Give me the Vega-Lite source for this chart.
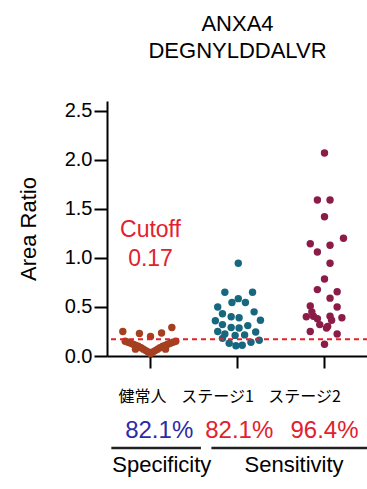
{
  "$schema": "https://vega.github.io/schema/vega-lite/v6.json",
  "padding": {"left": 17, "top": 12, "right": 0, "bottom": 0},
  "spacing": 14,
  "resolve": {"scale": {"color": "independent"}},
  "config": {"view": {"stroke": null}, "font": "Liberation Sans"},
  "vconcat": [
    {
      "width": 261,
      "height": 255,
      "title": {"text": ["ANXA4", "DEGNYLDDALVR"], "fontSize": 22, "fontWeight": "normal", "lineHeight": 27, "anchor": "middle", "frame": "group", "offset": 38, "color": "black"},
      "layer": [
        {
          "data": {"values": [
            {"group": "健常人", "ratio": 0.25, "slot": -3.5},
            {"group": "健常人", "ratio": 0.23, "slot": -1.4},
            {"group": "健常人", "ratio": 0.20, "slot": 0},
            {"group": "健常人", "ratio": 0.235, "slot": 1.4},
            {"group": "健常人", "ratio": 0.29, "slot": 2.7},
            {"group": "健常人", "ratio": 0.15, "slot": -3.2},
            {"group": "健常人", "ratio": 0.14, "slot": -2.85},
            {"group": "健常人", "ratio": 0.13, "slot": -2.5},
            {"group": "健常人", "ratio": 0.12, "slot": -2.2},
            {"group": "健常人", "ratio": 0.11, "slot": -1.9},
            {"group": "健常人", "ratio": 0.10, "slot": -1.55},
            {"group": "健常人", "ratio": 0.085, "slot": -1.2},
            {"group": "健常人", "ratio": 0.07, "slot": -0.9},
            {"group": "健常人", "ratio": 0.055, "slot": -0.6},
            {"group": "健常人", "ratio": 0.04, "slot": -0.3},
            {"group": "健常人", "ratio": 0.025, "slot": 0},
            {"group": "健常人", "ratio": 0.04, "slot": 0.3},
            {"group": "健常人", "ratio": 0.055, "slot": 0.6},
            {"group": "健常人", "ratio": 0.07, "slot": 0.9},
            {"group": "健常人", "ratio": 0.085, "slot": 1.2},
            {"group": "健常人", "ratio": 0.10, "slot": 1.55},
            {"group": "健常人", "ratio": 0.11, "slot": 1.9},
            {"group": "健常人", "ratio": 0.12, "slot": 2.2},
            {"group": "健常人", "ratio": 0.13, "slot": 2.5},
            {"group": "健常人", "ratio": 0.14, "slot": 2.85},
            {"group": "健常人", "ratio": 0.15, "slot": 3.2},
            {"group": "健常人", "ratio": 0.07, "slot": -1.9},
            {"group": "健常人", "ratio": 0.07, "slot": 1.9},
            {"group": "ステージ1", "ratio": 0.945, "slot": 0.1},
            {"group": "ステージ1", "ratio": 0.65, "slot": -1.6},
            {"group": "ステージ1", "ratio": 0.65, "slot": 1.9},
            {"group": "ステージ1", "ratio": 0.545, "slot": -0.7},
            {"group": "ステージ1", "ratio": 0.585, "slot": 0.1},
            {"group": "ステージ1", "ratio": 0.545, "slot": 1.0},
            {"group": "ステージ1", "ratio": 0.50, "slot": -2.5},
            {"group": "ステージ1", "ratio": 0.43, "slot": -1.9},
            {"group": "ステージ1", "ratio": 0.40, "slot": -0.8},
            {"group": "ステージ1", "ratio": 0.39, "slot": 0.2},
            {"group": "ステージ1", "ratio": 0.45, "slot": 2.1},
            {"group": "ステージ1", "ratio": 0.36, "slot": -2.8},
            {"group": "ステージ1", "ratio": 0.32, "slot": -1.9},
            {"group": "ステージ1", "ratio": 0.29, "slot": -0.8},
            {"group": "ステージ1", "ratio": 0.285, "slot": 0.2},
            {"group": "ステージ1", "ratio": 0.31, "slot": 1.3},
            {"group": "ステージ1", "ratio": 0.365, "slot": 2.9},
            {"group": "ステージ1", "ratio": 0.25, "slot": -2.5},
            {"group": "ステージ1", "ratio": 0.225, "slot": -1.6},
            {"group": "ステージ1", "ratio": 0.21, "slot": -0.3},
            {"group": "ステージ1", "ratio": 0.215, "slot": 0.9},
            {"group": "ステージ1", "ratio": 0.245, "slot": 2.3},
            {"group": "ステージ1", "ratio": 0.18, "slot": -1.9},
            {"group": "ステージ1", "ratio": 0.13, "slot": -1.05},
            {"group": "ステージ1", "ratio": 0.105, "slot": -0.2},
            {"group": "ステージ1", "ratio": 0.11, "slot": 0.6},
            {"group": "ステージ1", "ratio": 0.14, "slot": 1.7},
            {"group": "ステージ1", "ratio": 0.16, "slot": 2.75},
            {"group": "ステージ2", "ratio": 2.07, "slot": 0},
            {"group": "ステージ2", "ratio": 1.59, "slot": -0.9},
            {"group": "ステージ2", "ratio": 1.59, "slot": 0.7},
            {"group": "ステージ2", "ratio": 1.42, "slot": 0},
            {"group": "ステージ2", "ratio": 1.145, "slot": -1.8},
            {"group": "ステージ2", "ratio": 1.06, "slot": -0.9},
            {"group": "ステージ2", "ratio": 1.13, "slot": 0.7},
            {"group": "ステージ2", "ratio": 1.20, "slot": 2.4},
            {"group": "ステージ2", "ratio": 0.945, "slot": 0.7},
            {"group": "ステージ2", "ratio": 0.785, "slot": 0},
            {"group": "ステージ2", "ratio": 0.677, "slot": -0.9},
            {"group": "ステージ2", "ratio": 0.655, "slot": 1.6},
            {"group": "ステージ2", "ratio": 0.59, "slot": 0.7},
            {"group": "ステージ2", "ratio": 0.50, "slot": 1.6},
            {"group": "ステージ2", "ratio": 0.51, "slot": -1.8},
            {"group": "ステージ2", "ratio": 0.40, "slot": -2.3},
            {"group": "ステージ2", "ratio": 0.405, "slot": -1.4},
            {"group": "ステージ2", "ratio": 0.38, "slot": -0.9},
            {"group": "ステージ2", "ratio": 0.405, "slot": 0.7},
            {"group": "ステージ2", "ratio": 0.39, "slot": 2.2},
            {"group": "ステージ2", "ratio": 0.32, "slot": -0.6},
            {"group": "ステージ2", "ratio": 0.30, "slot": 0.4},
            {"group": "ステージ2", "ratio": 0.25, "slot": -1.8},
            {"group": "ステージ2", "ratio": 0.225, "slot": 1.6},
            {"group": "ステージ2", "ratio": 0.12, "slot": 0},
            {"group": "ステージ2", "ratio": 0.45, "slot": -1.6},
            {"group": "ステージ2", "ratio": 0.365, "slot": 0.9},
            {"group": "ステージ2", "ratio": 0.285, "slot": 0.25}
          ]},
          "mark": {"type": "circle", "size": 55, "opacity": 1},
          "encoding": {
            "x": {
              "field": "group", "type": "nominal", "sort": ["健常人", "ステージ1", "ステージ2"],
              "scale": {"paddingInner": 0, "paddingOuter": 0},
              "axis": {"title": null, "labelAngle": 0, "labelFontSize": 16, "labelFont": "Noto Sans CJK JP", "labelColor": "black", "tickSize": 12, "tickWidth": 2, "tickColor": "black", "domainColor": "black", "domainWidth": 2, "labelPadding": 20,
                "labelOffset": {"condition": {"test": "datum.value === '健常人'", "value": -8}, "value": -20}}
            },
            "xOffset": {"field": "slot", "type": "quantitative", "scale": {"domain": [-5.5, 5.5]}},
            "y": {
              "field": "ratio", "type": "quantitative", "scale": {"domain": [0, 2.5]},
              "axis": {"title": "Area Ratio", "titleFontSize": 22, "titleFontWeight": "normal", "titleColor": "black", "titlePadding": 24, "values": [0, 0.5, 1, 1.5, 2, 2.5], "format": ".1f", "labelFontSize": 20, "labelColor": "black", "labelPadding": 2, "tickSize": 13, "tickWidth": 2, "tickColor": "black", "domainColor": "black", "domainWidth": 2, "grid": false}
            },
            "color": {"field": "group", "type": "nominal", "scale": {"domain": ["健常人", "ステージ1", "ステージ2"], "range": ["#a4401f", "#17687f", "#8a1c47"]}, "legend": null}
          }
        },
        {
          "data": {"values": [{}]},
          "mark": {"type": "rule", "color": "#e3202b", "strokeDash": [5, 4], "strokeWidth": 2},
          "encoding": {"y": {"datum": 0.17}}
        },
        {
          "data": {"values": [{}]},
          "mark": {"type": "text", "text": ["Cutoff", "0.17"], "color": "#e3202b", "fontSize": 23, "lineHeight": 29},
          "encoding": {"x": {"datum": "健常人"}, "y": {"datum": 1.285}}
        }
      ]
    },
    {
      "width": 261,
      "height": 52,
      "layer": [
        {
          "data": {"values": [
            {"pos": 1.1, "row": "pct", "label": "82.1%", "kind": "spec"},
            {"pos": 2.02, "row": "pct", "label": "82.1%", "kind": "sens"},
            {"pos": 3.0, "row": "pct", "label": "96.4%", "kind": "sens"}
          ]},
          "mark": {"type": "text", "fontSize": 24},
          "encoding": {
            "x": {"field": "pos", "type": "quantitative", "scale": {"domain": [0.5, 3.5]}, "axis": null},
            "y": {"field": "row", "type": "nominal", "scale": {"type": "point", "domain": ["pct", "line", "name"], "padding": 0.5}, "axis": null},
            "text": {"field": "label"},
            "color": {"field": "kind", "type": "nominal", "scale": {"domain": ["spec", "sens"], "range": ["#2b2ba5", "#e3202b"]}, "legend": null}
          }
        },
        {
          "data": {"values": [
            {"pos": 0.55, "pos2": 1.58, "row": "line"},
            {"pos": 1.7, "pos2": 3.5, "row": "line"}
          ]},
          "mark": {"type": "rule", "color": "#222222", "strokeWidth": 2.5},
          "encoding": {
            "x": {"field": "pos", "type": "quantitative", "scale": {"domain": [0.5, 3.5]}, "axis": null},
            "x2": {"field": "pos2"},
            "y": {"field": "row", "type": "nominal", "scale": {"type": "point", "domain": ["pct", "line", "name"], "padding": 0.5}, "axis": null}
          }
        },
        {
          "data": {"values": [
            {"pos": 1.13, "row": "name", "label": "Specificity"},
            {"pos": 2.65, "row": "name", "label": "Sensitivity"}
          ]},
          "mark": {"type": "text", "fontSize": 22, "color": "black"},
          "encoding": {
            "x": {"field": "pos", "type": "quantitative", "scale": {"domain": [0.5, 3.5]}, "axis": null},
            "y": {"field": "row", "type": "nominal", "scale": {"type": "point", "domain": ["pct", "line", "name"], "padding": 0.5}, "axis": null},
            "text": {"field": "label"}
          }
        }
      ]
    }
  ]
}
